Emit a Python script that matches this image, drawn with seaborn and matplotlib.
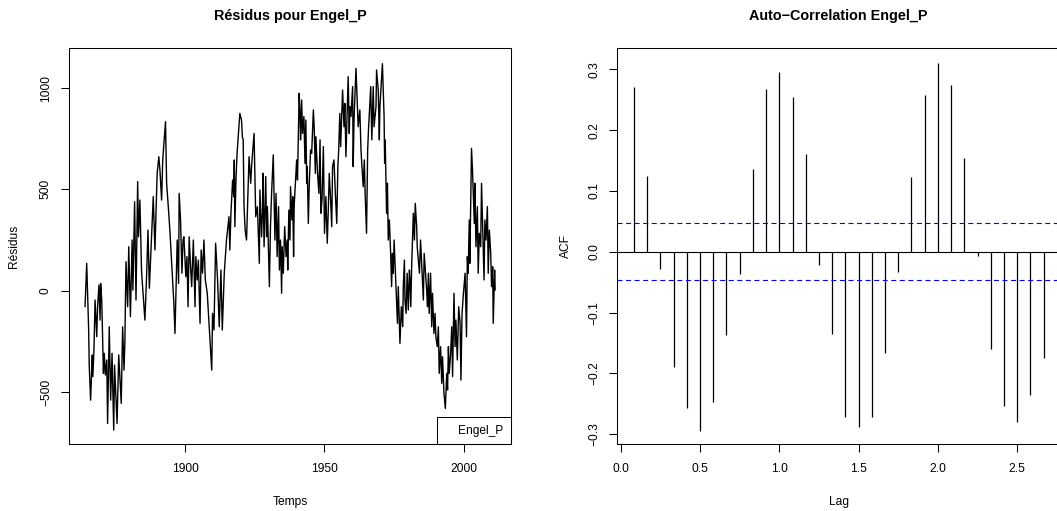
import matplotlib
matplotlib.use("Agg")
import matplotlib.pyplot as plt
import seaborn as sns
import pandas as pd
from matplotlib.lines import Line2D

# ---------------- data ----------------
years_a = [1864.0,1864.6,1865.3,1865.5,1866.0,1866.6,1866.8,1867.2,1867.6,1868.2,1868.5,1869.0,1869.4,1869.6,1870.0,1870.6,1870.9,1871.3,1871.8,1872.1,1872.7,1873.2,1873.7,1874.3,1874.6,1875.0,1875.5,1876.1,1877.0,1877.5,1878.0,1878.3,1878.7,1879.3,1879.7,1880.3,1880.9,1881.2,1881.8,1882.3,1882.9,1883.2,1883.7,1884.3,1885.5,1886.1,1886.6,1887.1,1888.5,1889.1,1889.9,1890.5,1890.9,1891.5,1891.9,1892.9,1893.3,1893.9,1894.5,1895.3,1895.9,1896.3,1897.1,1897.6,1897.8,1898.3,1898.8,1899.2,1899.5,1900.2,1900.6,1901.0,1901.4,1901.9,1902.3,1902.9,1903.5,1903.8,1904.3,1904.7,1905.3,1905.7,1906.2,1906.7,1907.2,1907.9,1909.5,1909.8,1910.3,1910.9,1911.6,1912.2,1912.8,1913.3,1914.0,1914.5,1914.8,1915.7,1916.0,1916.4,1917.0,1917.4,1917.6,1917.8,1918.2,1918.6,1919.6,1920.2,1920.5,1920.8,1921.1,1921.5,1922.0,1922.9,1923.5,1923.8,1924.7,1925.3,1925.9,1926.6]
resid_a = [-79,135,-194,-367,-540,-317,-424,-293,-46,-227,-79,28,-145,36,-46,-408,-309,-416,-342,-655,-178,-540,-309,-688,-367,-490,-655,-317,-556,-178,-392,-260,143,-79,217,-128,250,3,439,-46,538,266,447,94,-145,69,299,12,464,201,579,661,595,447,645,834,530,415,291,86,-63,-211,250,36,480,349,86,250,266,69,168,-79,266,118,20,250,-79,168,53,151,-161,201,86,250,53,-13,-392,-112,-194,234,53,-178,102,-194,86,184,250,365,201,382,546,464,645,316,546,678,875,842,760,744,415,299,250,661,530,612,776,365,415,135]

years_b = [1926.8,1927.4,1927.7,1927.9,1928.3,1928.9,1929.2,1929.5,1930.2,1930.6,1931.0,1931.6,1932.2,1932.6,1933.0,1933.5,1933.8,1934.2,1934.6,1934.8,1935.2,1935.7,1936.2,1936.6,1936.8,1937.2,1937.6,1937.8,1938.3,1938.6,1938.9,1939.1,1940.0,1940.3,1940.9,1941.2,1941.4,1941.8,1942.1,1942.6,1943.0,1943.3,1943.6,1943.8,1944.2,1944.5,1945.0,1945.4,1946.0,1946.3,1946.7,1946.9,1947.5,1948.0,1948.4,1948.7,1949.1,1949.6,1950.0,1950.5,1951.0,1951.4,1951.7,1952.2,1952.6,1952.9,1953.4,1953.9,1954.4,1954.8,1955.1,1955.5,1955.8,1956.5,1957.0,1957.3,1957.7,1958.5,1958.9,1959.1,1959.5,1960.1,1960.3,1960.6,1961.3,1961.8,1962.1,1962.7,1963.1,1963.6,1963.9,1964.3,1964.6,1965.1,1965.5,1965.8,1966.6,1967.0,1967.5,1967.8,1968.5,1968.7,1969.3,1969.7]
resid_b = [497,266,382,579,217,563,266,415,20,316,480,670,250,480,168,415,102,250,-13,217,86,316,168,250,102,398,250,513,349,464,168,415,645,546,974,875,744,941,776,859,628,842,530,612,332,513,694,678,892,809,579,760,579,480,744,382,447,711,283,464,234,415,579,447,316,612,645,480,332,612,694,875,711,990,809,924,661,1056,776,908,859,1007,612,842,1097,924,809,892,694,579,513,645,480,283,694,793,1007,744,1007,809,908,1089,990,744]

years_c = [1969.9,1970.8,1971.4,1971.6,1971.8,1972.3,1972.6,1972.9,1973.3,1973.8,1974.1,1974.4,1974.7,1975.0,1976.2,1976.5,1977.1,1977.6,1978.1,1978.3,1978.7,1978.9,1979.3,1979.7,1980.1,1980.5,1980.7,1981.0,1981.3,1981.9,1982.3,1982.6,1983.1,1983.3,1984.1,1984.5,1985.0,1985.5,1985.8,1986.7,1987.0,1987.3,1987.6,1988.1,1988.5,1988.8,1989.3,1989.7,1990.0,1990.5,1990.9,1991.2,1991.7,1992.1,1992.4,1992.9,1993.4,1993.9,1994.2,1994.5,1994.8,1995.3,1995.7,1996.0,1996.5,1996.9,1997.2,1997.7,1998.2,1998.7,1999.0,1999.4,1999.9,2000.5,2001.0,2001.3,2001.6,2002.0,2002.2,2002.8,2003.2,2003.4,2003.8,2004.0,2004.4,2004.9,2005.2,2005.6,2006.1,2006.4,2006.8,2007.3,2007.6,2008.0,2008.5,2008.8,2009.2,2009.7,2010.0,2010.4,2010.6,2011.1,2011.3]
resid_c = [908,1120,859,628,744,382,530,250,349,168,20,184,86,250,-161,20,-260,-79,-178,20,151,-46,-112,86,-95,102,53,-79,118,382,250,431,316,217,86,250,102,-46,184,3,-79,86,-112,86,-178,-13,-211,-112,-227,-276,-178,-408,-276,-457,-326,-507,-581,-408,-490,-276,-408,-309,-178,-424,-13,-276,-145,-342,-79,-161,-441,-112,-13,86,-227,168,86,349,135,702,579,497,332,530,217,415,86,283,217,530,316,53,349,250,415,86,299,184,20,118,-161,102,3]

acf_lag_months = list(range(1, 33))
acf_values = [0.271, 0.124, -0.028, -0.190, -0.257, -0.294, -0.247, -0.137, -0.036,
              0.136, 0.268, 0.295, 0.254, 0.161, -0.021, -0.135, -0.271, -0.288,
              -0.271, -0.166, -0.033, 0.123, 0.258, 0.310, 0.274, 0.154, -0.007,
              -0.160, -0.254, -0.280, -0.235, -0.174]
ci_bound = 0.0467

left_xticks = [1900, 1950, 2000]
left_yticks = [-500, 0, 500, 1000]
left_ytick_labels = ["\u2212500", "0", "500", "1000"]
right_xticks = [0.0, 0.5, 1.0, 1.5, 2.0, 2.5]
right_xtick_labels = ["0.0", "0.5", "1.0", "1.5", "2.0", "2.5"]
right_yticks = [-0.3, -0.2, -0.1, 0.0, 0.1, 0.2, 0.3]
right_ytick_labels = ["\u22120.3", "\u22120.2", "\u22120.1", "0.0", "0.1", "0.2", "0.3"]

# ---------------- styling ----------------
sns.set_style("ticks")
plt.rcParams['font.family'] = ['Liberation Sans', 'DejaVu Sans']
plt.rcParams['axes.unicode_minus'] = True
plt.rcParams['text.color'] = 'black'
plt.rcParams['axes.labelcolor'] = 'black'

FS = 8.64
TITLE_FS = 10.4

fig = plt.figure(figsize=(10.57, 5.11), dpi=100)
W, H = 1057.0, 511.0
ax1 = fig.add_axes([69 / W, 1 - 444.3 / H, (511.3 - 69) / W, (444.3 - 48.3) / H])
ax2 = fig.add_axes([617.3 / W, 1 - 444.3 / H, (1060 - 617.3) / W, (444.3 - 48.3) / H])

df = pd.DataFrame({
    "Temps": years_a + years_b + years_c,
    "Résidus": resid_a + resid_b + resid_c,
})
sns.lineplot(data=df, x="Temps", y="Résidus", ax=ax1, color="black",
             linewidth=1.0, sort=False, estimator=None)

ax1.set_xlim(1858.24, 2017.09)
ax1.set_ylim(-758, 1196)
ax1.set_xticks(left_xticks)
ax1.set_xticklabels([str(t) for t in left_xticks])
ax1.set_yticks(left_yticks)
ax1.set_yticklabels(left_ytick_labels)
ax1.set_title("Résidus pour Engel_P", fontsize=TITLE_FS, fontweight="bold", pad=20.4,
              color="black")
ax1.set_xlabel("Temps", fontsize=FS, labelpad=15, color="black")
ax1.set_ylabel("Résidus", fontsize=FS, labelpad=14, color="black")

leg = ax1.legend(handles=[Line2D([], [], linestyle="none")], labels=["Engel_P"],
                 loc="lower right", borderaxespad=0, fancybox=False, frameon=True,
                 fontsize=FS, borderpad=0.65, handlelength=0.75, handletextpad=0.33,
                 framealpha=1)
leg.get_frame().set_edgecolor("black")
leg.get_frame().set_linewidth(0.75)
leg.get_frame().set_facecolor("white")
for t in leg.get_texts():
    t.set_color("black")

# ACF panel
lags = [m / 12 for m in acf_lag_months]
ax2.vlines(lags, 0, acf_values, colors="black", linewidth=0.9)
ax2.axhline(0, color="black", linewidth=0.8)
for b in (ci_bound, -ci_bound):
    ax2.axhline(b, color="blue", linewidth=0.8, linestyle=(0, (4.5, 3.2)))
ax2.set_xlim(-0.0214, 2.77)
ax2.set_ylim(-0.3164, 0.3345)
ax2.set_xticks(right_xticks)
ax2.set_xticklabels(right_xtick_labels)
ax2.set_yticks(right_yticks)
ax2.set_yticklabels(right_ytick_labels)
ax2.set_title("Auto\u2212Correlation Engel_P", fontsize=TITLE_FS, fontweight="bold", pad=20.4,
              color="black")
ax2.set_xlabel("Lag", fontsize=FS, labelpad=15, color="black")
ax2.set_ylabel("ACF", fontsize=FS, labelpad=12, color="black")

for ax in (ax1, ax2):
    for s in ax.spines.values():
        s.set_color("black")
        s.set_linewidth(0.75)
        s.set_visible(True)
    ax.tick_params(direction="out", length=5.8, width=0.75, labelsize=FS,
                   colors="black", pad=6.5)
    ax.tick_params(axis="x", pad=8)
    ax.tick_params(axis="y", labelrotation=90)
    for lbl in ax.get_yticklabels():
        lbl.set_verticalalignment("center")
    ax.grid(False)
    ax.set_facecolor("white")

fig.patch.set_facecolor("white")
fig.savefig("out.png", dpi=100, facecolor="white")
